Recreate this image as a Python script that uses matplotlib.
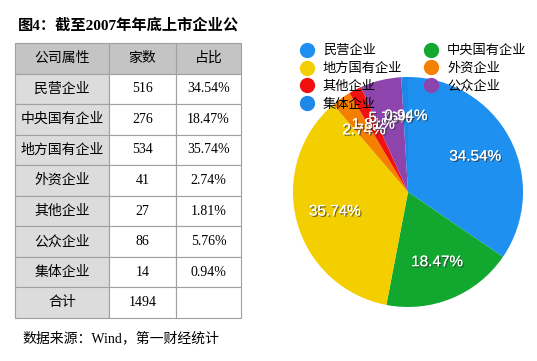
import numpy as np
import matplotlib
matplotlib.use('Agg')
import matplotlib.pyplot as plt
import matplotlib.patheffects as pe
from matplotlib.lines import Line2D

plt.rcParams['font.family'] = ['Liberation Serif', 'Noto Sans CJK SC']

# 数据
categories = ['民营企业', '中央国有企业', '地方国有企业', '外资企业', '其他企业', '公众企业', '集体企业']
counts = [516, 276, 534, 41, 27, 86, 14]
shares = [34.54, 18.47, 35.74, 2.74, 1.81, 5.76, 0.94]
total_label = '1494'
colors = ['#1e90f0', '#12a830', '#f3cf00', '#f57f00', '#f01010', '#8e44ad', '#1e88e8']

W, H = 537, 361
fig = plt.figure(figsize=(W / 100, H / 100), dpi=100)
fig.patch.set_facecolor('white')

def fx(px):
    return px / W

def fy(py):
    return 1 - py / H

# 标题
fig.text(fx(18), fy(25), '图4：截至2007年年底上市企业公', fontsize=11, fontweight='bold',
         ha='left', va='center')

# 表格
ax_t = fig.add_axes([fx(15), fy(318), fx(241) - fx(15), fy(43) - fy(318)])
ax_t.axis('off')
rows = [['公司属性', '家数', '占比']]
for c, n, s in zip(categories, counts, shares):
    rows.append([c, str(n), f'{s:.2f}%'])
rows.append(['合计', total_label, ''])
cell_colors = []
for i in range(len(rows)):
    if i == 0:
        cell_colors.append(['#c4c4c4'] * 3)
    else:
        cell_colors.append(['#dcdcdc', 'white', 'white'])
tbl = ax_t.table(cellText=rows, cellColours=cell_colors, cellLoc='center',
                 colWidths=[94, 67, 65], bbox=[0, 0, 1, 1])
tbl.auto_set_font_size(False)
for (r, c), cell in tbl.get_celld().items():
    cell.set_edgecolor('#a0a0a0')
    cell.set_linewidth(0.8)
    cell.get_text().set_fontsize(10)

# 饼图
cx, cy, rad = 408, 192, 115
ax_p = fig.add_axes([fx(cx - rad), fy(cy + rad), fx(2 * rad), fy(cy - rad) - fy(cy + rad)])
wedges, texts, autotexts = ax_p.pie(shares, colors=colors, startangle=90, counterclock=False,
                                    autopct='%.2f%%', pctdistance=0.66,
                                    wedgeprops=dict(linewidth=0))
for t in autotexts:
    t.set_color('white')
    t.set_fontsize(11)
    t.set_family(['Liberation Sans', 'DejaVu Sans'])
    t.set_path_effects([pe.withSimplePatchShadow(offset=(1, -1), shadow_rgbFace='#333333', alpha=0.7),
                        pe.Normal()])
ax_p.set_xlim(-1.0, 1.0)
ax_p.set_ylim(-1.0, 1.0)
ax_p.set_aspect('equal')

# 图例
handles = [Line2D([], [], marker='o', linestyle='', markersize=10,
                  markerfacecolor=col, markeredgecolor=col) for col in colors]
order = [0, 2, 4, 6, 1, 3, 5]
leg = fig.legend([handles[i] for i in order], [categories[i] for i in order],
                 loc='upper left', bbox_to_anchor=(fx(299), fy(45)), ncol=2, frameon=False,
                 fontsize=9.5, handletextpad=0.6, columnspacing=1.6, labelspacing=0.42,
                 handlelength=1.2, borderaxespad=0, borderpad=0)

# 数据来源
fig.text(fx(22), fy(338), '数据来源：Wind，第一财经统计', fontsize=10, ha='left', va='center')

fig.savefig('out.png', dpi=100)
